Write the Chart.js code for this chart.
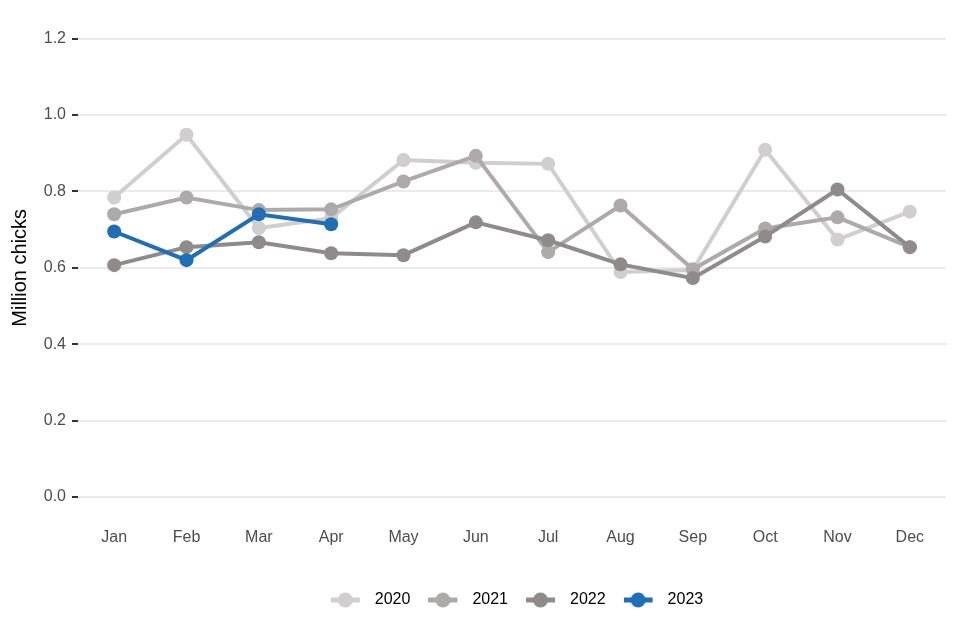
<!DOCTYPE html>
<html>
<head>
<meta charset="utf-8">
<script src="https://cdn.jsdelivr.net/npm/chart.js@4"></script>
<style>
html,body{margin:0;padding:0;background:#fff;}
#wrap{width:960px;height:640px;position:relative;}
</style>
</head>
<body>
<div id="wrap"><canvas id="c"></canvas></div>
<script>
const months = ["Jan","Feb","Mar","Apr","May","Jun","Jul","Aug","Sep","Oct","Nov","Dec"];
const years = ["2020","2021","2022","2023"];
const v2020 = [0.784,0.948,0.704,0.730,0.882,0.875,0.872,0.589,0.594,0.909,0.674,0.747];
const v2021 = [0.740,0.784,0.751,0.753,0.826,0.893,0.641,0.763,0.596,0.703,0.732,0.654];
const v2022 = [0.607,0.654,0.667,0.638,0.633,0.719,0.672,0.609,0.573,0.682,0.805,0.654];
const v2023 = [0.695,0.620,0.740,0.714];
const yTicks = [0,0.2,0.4,0.6,0.8,1.0,1.2];

const colors = ["#d0cece","#aeaaaa","#8f8b8b","#1f6eb6"];
const series = [v2020,v2021,v2022,v2023];
const FONT = 'Liberation Sans, Arial, sans-serif';

function legendIcon(color){
  const c = document.createElement('canvas');
  c.width = 36; c.height = 16;
  const g = c.getContext('2d');
  g.strokeStyle = color; g.lineWidth = 5;
  g.beginPath(); g.moveTo(0,8); g.lineTo(29,8); g.stroke();
  g.fillStyle = color;
  g.beginPath(); g.arc(14.5,8,7.5,0,Math.PI*2); g.fill();
  return c;
}

const datasets = years.map((y,i)=>({
  label: y,
  data: series[i],
  borderColor: colors[i],
  backgroundColor: colors[i],
  borderWidth: 4,
  pointRadius: 7,
  pointHoverRadius: 7,
  pointBorderWidth: 0,
  tension: 0,
  order: 3 - i
}));

const shiftLegend = {
  id: 'shiftLegend',
  afterLayout(chart){
    if (chart.legend) { chart.legend.left += 40; chart.legend.right += 40; }
  }
};

new Chart(document.getElementById('c'), {
  type: 'line',
  data: { labels: months, datasets },
  plugins: [shiftLegend],
  options: {
    responsive: true,
    maintainAspectRatio: false,
    animation: false,
    layout: { padding: { left: 8, right: 14, top: 8, bottom: 22 } },
    plugins: {
      tooltip: { enabled: false },
      legend: {
        position: 'bottom',
        labels: {
          usePointStyle: true,
          pointStyleWidth: 36,
          color: '#000',
          font: { family: FONT, size: 16 },
          padding: 18,
          generateLabels(chart){
            return chart.data.datasets.map((d,i)=>({
              text: d.label,
              pointStyle: legendIcon(d.borderColor),
              fillStyle: d.borderColor,
              strokeStyle: d.borderColor,
              lineWidth: 0,
              hidden: false,
              datasetIndex: i,
              fontColor: '#000'
            }));
          }
        }
      }
    },
    scales: {
      x: {
        offset: true,
        grid: { display: false, drawTicks: false },
        border: { display: false },
        ticks: { color: '#4d4d4d', font: { family: FONT, size: 16 }, padding: 8, maxRotation: 0 },
        afterFit(scale){ scale.height = 54; }
      },
      y: {
        min: -0.06,
        max: 1.26,
        afterBuildTicks(scale){ scale.ticks = yTicks.map(v=>({value:v})); },
        afterFit(scale){ scale.width = 70; },
        grid: { color: '#ebebeb', lineWidth: 2, drawTicks: true, tickColor: '#333', tickLength: 6, tickWidth: 2 },
        border: { display: false },
        ticks: {
          color: '#4d4d4d',
          font: { family: FONT, size: 16 },
          padding: 6,
          callback: v => Number(v).toFixed(1)
        },
        title: { display: true, text: 'Million chicks', color: '#000', font: { family: FONT, size: 20 }, padding: { top: 0, bottom: 4 } }
      }
    }
  }
});
</script>
</body>
</html>
